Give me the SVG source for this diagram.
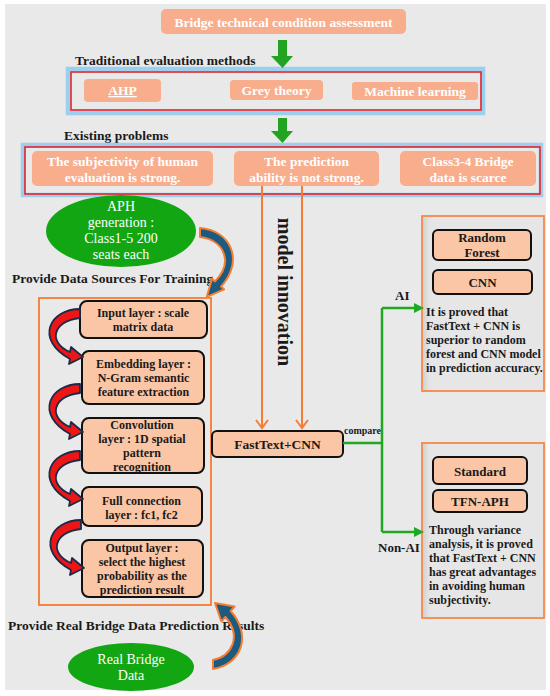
<svg xmlns="http://www.w3.org/2000/svg" width="550" height="696" viewBox="0 0 550 696">
<style>
.t{font-family:"Liberation Serif","Times New Roman",serif;font-weight:bold;fill:#1a1a1a}
.r{font-family:"Liberation Serif","Times New Roman",serif;fill:#fff}
.wb{font-family:"Liberation Serif","Times New Roman",serif;font-weight:bold;fill:#fff;font-size:13.5px;text-anchor:middle}
.lt{font-size:12px;text-anchor:middle}
.salmon{fill:#f8ad8d}
.layer{fill:#fbc6a6;stroke:#111;stroke-width:2}
.org{fill:none;stroke:#f47c35;stroke-width:1.8}
.glow{fill:none;stroke:#9ccfee;stroke-width:4.5}
.red{fill:none;stroke:#e3242b;stroke-width:1.6}
.gline{fill:none;stroke:#21a821;stroke-width:2.5}
.ell{fill:#12a612}
.redarrow{fill:#ee1515;stroke:#1b2b48;stroke-width:1.8;stroke-linejoin:round}
.bluearrow{fill:#1b5b7e;stroke:#f47c35;stroke-width:2;stroke-linejoin:round}
.garrow{fill:#22a322}
</style>
<defs>
<marker id="oh" viewBox="0 0 12 12" refX="6" refY="11" markerWidth="12" markerHeight="12" markerUnits="userSpaceOnUse" orient="auto-start-reverse">
</marker>
<linearGradient id="sh" x1="0" y1="0" x2="1" y2="0">
<stop offset="0" stop-color="#cfcfcf"/><stop offset="1" stop-color="#e6e6e6" stop-opacity="0"/>
</linearGradient>
</defs>
<rect x="5" y="4" width="541" height="686" fill="#e9e9e9"/>

<g id="top">
<rect class="salmon" x="161" y="9" width="245" height="25" rx="5"/>
<text class="wb" x="283.5" y="26.5">Bridge technical condition assessment</text>
</g>

<g id="traditional">
<text class="t" x="75" y="65" font-size="13.5">Traditional evaluation methods</text>
<rect class="glow" x="68" y="69" width="415" height="44"/>
<rect class="red" x="71" y="72" width="410" height="38"/>
<g id="ahp"><rect class="salmon" x="84" y="79" width="77" height="23" rx="4"/><text class="wb" x="122.5" y="95" text-decoration="underline">AHP</text></g>
<g id="grey"><rect class="salmon" x="230" y="80" width="93" height="20" rx="4"/><text class="wb" x="276.5" y="95">Grey theory</text></g>
<g id="ml"><rect class="salmon" x="352" y="82" width="126" height="18" rx="3"/><text class="wb" x="415" y="96">Machine learning</text></g>
</g>

<g id="problems">
<text class="t" x="64" y="139.5" font-size="13.5">Existing problems</text>
<rect class="glow" x="23" y="145" width="518" height="50"/>
<rect class="red" x="25" y="147" width="515" height="47"/>
<g id="p1"><rect class="salmon" x="32" y="151" width="181" height="35" rx="5"/><text class="wb" x="122.5" y="166">The subjectivity of human</text><text class="wb" x="122.5" y="182">evaluation is strong.</text></g>
<g id="p2"><rect class="salmon" x="234" y="151" width="145" height="35" rx="5"/><text class="wb" x="306.5" y="166">The prediction</text><text class="wb" x="306.5" y="182">ability is not strong.</text></g>
<g id="p3"><rect class="salmon" x="400" y="151" width="136" height="35" rx="5"/><text class="wb" x="468" y="166">Class3-4 Bridge</text><text class="wb" x="468" y="182">data is scarce</text></g>
</g>

<g id="aph">
<ellipse class="ell" cx="121" cy="231" rx="75" ry="36"/>
<text class="r" font-size="14" text-anchor="middle" x="121" y="211">APH</text>
<text class="r" font-size="14" text-anchor="middle" x="121" y="227">generation :</text>
<text class="r" font-size="14" text-anchor="middle" x="121" y="243">Class1-5 200</text>
<text class="r" font-size="14" text-anchor="middle" x="121" y="259">seats each</text>
<text class="t" x="12" y="283" font-size="13.5">Provide Data Sources For Training</text>
</g>

<g id="model-label">
<text class="t" font-size="20" text-anchor="middle" transform="translate(278,292) rotate(90)">model innovation</text>
</g>

<g id="layers">
<rect class="org" x="39" y="298" width="172" height="307" fill="none"/>
<g id="l1"><rect class="layer" x="80" y="301" width="127" height="37" rx="7"/><text class="t lt" x="143" y="317">Input layer : scale</text><text class="t lt" x="143" y="331">matrix data</text></g>
<g id="l2"><rect class="layer" x="82" y="351" width="122" height="53" rx="7"/><text class="t lt" x="143.5" y="368">Embedding layer :</text><text class="t lt" x="143.5" y="382">N-Gram semantic</text><text class="t lt" x="143.5" y="396">feature extraction</text></g>
<g id="l3"><rect class="layer" x="82" y="418" width="122" height="55" rx="7"/><text class="t lt" x="142" y="429">Convolution</text><text class="t lt" x="142" y="443">layer : 1D spatial</text><text class="t lt" x="142" y="457">pattern</text><text class="t lt" x="142" y="471">recognition</text></g>
<g id="l4"><rect class="layer" x="82" y="487" width="120" height="39" rx="7"/><text class="t lt" x="141.5" y="505">Full connection</text><text class="t lt" x="141.5" y="519">layer : fc1, fc2</text></g>
<g id="l5"><rect class="layer" x="82" y="540" width="121" height="57" rx="7"/><text class="t lt" x="142" y="552">Output layer :</text><text class="t lt" x="142" y="566">select the highest</text><text class="t lt" x="142" y="580">probability as the</text><text class="t lt" x="142" y="594">prediction result</text></g>
</g>

<g id="real">
<text class="t" x="8" y="630" font-size="13.5">Provide Real Bridge Data Prediction Results</text>
<ellipse class="ell" cx="131" cy="667" rx="63" ry="24"/>
<text class="r" font-size="14" text-anchor="middle" x="131" y="664">Real Bridge</text>
<text class="r" font-size="14" text-anchor="middle" x="131" y="680">Data</text>
</g>

<g id="fasttext">
<rect class="layer" x="212" y="431" width="131" height="26" rx="5"/>
<text class="t" x="277.5" y="449" font-size="13.5" text-anchor="middle">FastText+CNN</text>
<text class="t" x="344" y="434" font-size="10">compare</text>
</g>

<g id="ai">
<rect x="422" y="216" width="122" height="175" fill="#e6e6e6" stroke="#f5884a" stroke-width="1.8"/>
<rect x="423" y="217" width="10" height="173" fill="url(#sh)"/>
<g id="rf"><rect class="layer" x="433" y="230" width="98" height="30" rx="5"/><text class="t" font-size="13" text-anchor="middle" x="482" y="241.5">Random</text><text class="t" font-size="13" text-anchor="middle" x="482" y="257">Forest</text></g>
<g id="cnn"><rect class="layer" x="433" y="270" width="99" height="24" rx="5"/><text class="t" font-size="13" text-anchor="middle" x="482.5" y="287">CNN</text></g>
<text class="t" font-size="12"><tspan x="426" y="316">It is proved that</tspan><tspan x="426" y="330">FastText + CNN is</tspan><tspan x="426" y="344">superior to random</tspan><tspan x="426" y="358">forest and CNN model</tspan><tspan x="426" y="372">in prediction accuracy.</tspan></text>
</g>

<g id="nonai">
<rect x="422" y="443" width="122" height="175" fill="#e6e6e6" stroke="#f5884a" stroke-width="1.8"/>
<rect x="423" y="444" width="10" height="173" fill="url(#sh)"/>
<g id="std"><rect class="layer" x="433" y="457" width="94" height="27" rx="5"/><text class="t" font-size="13" text-anchor="middle" x="480" y="476">Standard</text></g>
<g id="tfn"><rect class="layer" x="433" y="490" width="94" height="22" rx="5"/><text class="t" font-size="13" text-anchor="middle" x="480" y="506">TFN-APH</text></g>
<text class="t" font-size="12"><tspan x="429" y="534">Through variance</tspan><tspan x="429" y="548">analysis, it is proved</tspan><tspan x="429" y="562">that FastText + CNN</tspan><tspan x="429" y="576">has great advantages</tspan><tspan x="429" y="590">in avoiding human</tspan><tspan x="429" y="604">subjectivity.</tspan></text>
</g>

<g id="connectors">
<path class="garrow" d="M278 40 H287 V56 H293 L282.5 68 L271 56 H278 Z"/>
<path class="garrow" d="M278 118 H287 V131 H293 L282.5 143 L271 131 H278 Z"/>
<path d="M262 186 V428 M256 420 L262 428 L268 420 M302 186 V428 M296 420 L302 428 L308 420" fill="none" stroke="#f47c35" stroke-width="2"/>
<path class="gline" d="M343 443 H382 M382 308 V532 M382 308 H414 M382 532 H414"/>
<path d="M414 303 L424 308 L414 313 Z M414 527 L424 532 L414 537 Z" fill="#21a821"/>
<text class="t" x="395" y="300" font-size="13">AI</text>
<text class="t" x="378" y="552" font-size="13">Non-AI</text>
<path class="bluearrow" d="M200 228 C230 230 245 260 221 286.6 L224 289.3 L206.8 296.8 L212 278.7 L215 281.4 C234 262 224 240 200 237 Z"/>
<path class="bluearrow" d="M213 669 C242 664 252 635 230.6 611 L234.6 606.5 L215 603 L221.4 621.5 L225.4 617 C242 636 232 656 213 660 Z"/>
<g id="redarrows">
<path class="redarrow" transform="translate(0,309)" d="M80 0 C50 0 34 30 70 50 L69 55 L83 48 L71 38 L70 43 C48 34 52 12 80 9 Z"/>
<path class="redarrow" transform="translate(0,384)" d="M80 0 C50 0 34 30 70 50 L69 55 L83 48 L71 38 L70 43 C48 34 52 12 80 9 Z"/>
<path class="redarrow" transform="translate(0,451)" d="M80 0 C50 0 34 30 70 50 L69 55 L83 48 L71 38 L70 43 C48 34 52 12 80 9 Z"/>
<path class="redarrow" transform="translate(1,520)" d="M80 0 C50 0 34 30 70 50 L69 55 L83 48 L71 38 L70 43 C48 34 52 12 80 9 Z"/>
</g>
</g>
</svg>
